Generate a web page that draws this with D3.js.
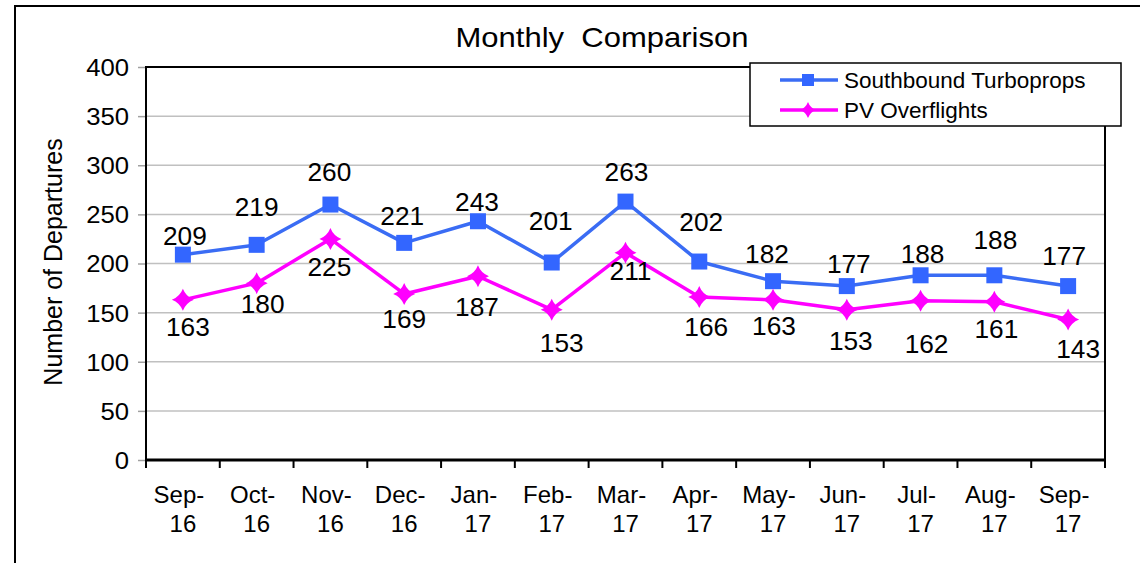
<!DOCTYPE html>
<html><head><meta charset="utf-8">
<script src="https://cdn.jsdelivr.net/npm/d3@7"></script>
<style>body{margin:0;background:#fff}svg{display:block;font-family:"Liberation Sans",Arial,sans-serif}</style>
</head><body><svg id="c" width="1140" height="563"></svg>
<script>
// ---- data ----
const months = ["Sep-16","Oct-16","Nov-16","Dec-16","Jan-17","Feb-17","Mar-17","Apr-17","May-17","Jun-17","Jul-17","Aug-17","Sep-17"];
const southbound = [209,219,260,221,243,201,263,202,182,177,188,188,177];
const pvOverflights = [163,180,225,169,187,153,211,166,163,153,162,161,143];
const yTicks = [0,50,100,150,200,250,300,350,400];
const seriesNames = ["Southbound Turboprops","PV Overflights"];

// ---- layout: manually placed data-label offsets (px, relative to the point) ----
const sbLabelDx = [2,0,-1,-2,-1,-1,1,2,-6,2,2,1,-4];
const sbLabelDy = [-19,-38,-33,-27,-19,-42,-30,-40,-27,-22,-21,-35,-30];
const pvLabelDx = [5,6,-1,0,-1,10,5,7,1,4,6,2,10];
const pvLabelDy = [27,21,28,25,31,33,18,30,26,31,43,27,29];

const svg = d3.select("#c");
const m = {l:146, t:67, r:1105, b:460};
function stretch(sel, k){ sel.each(function(){ const w=this.getComputedTextLength(); this.setAttribute("textLength", w*k); this.setAttribute("lengthAdjust","spacingAndGlyphs"); }); }

svg.append("rect").attr("x",15).attr("y",6).attr("width",1140).attr("height",600)
  .attr("fill","#fff").attr("stroke","#000").attr("stroke-width",2);

const x = d3.scaleBand().domain(months).range([m.l,m.r]);
const y = d3.scaleLinear().domain([0,400]).range([m.b,m.t]);

svg.append("g").selectAll("line").data(yTicks.filter(d=>d>0)).join("line")
  .attr("x1",m.l).attr("x2",m.r).attr("y1",d=>y(d)).attr("y2",d=>y(d))
  .attr("stroke","#c0c0c0").attr("stroke-width",1.5);

const ya = svg.append("g").attr("transform",`translate(${m.l},0)`)
  .call(d3.axisLeft(y).tickValues(yTicks).tickSize(8).tickPadding(9));
ya.select(".domain").remove();
ya.selectAll(".tick line").attr("stroke","#a0a0a0").attr("stroke-width",1.5);
ya.selectAll("text").attr("font-size",24).attr("fill","#000").attr("dy","0.35em")
  .attr("font-family","Liberation Sans, Arial, sans-serif");
stretch(ya.selectAll("text"),1.07);

svg.append("rect").attr("x",m.l).attr("y",m.t).attr("width",m.r-m.l).attr("height",m.b-m.t)
  .attr("fill","none").attr("stroke","#000").attr("stroke-width",2);

const bounds = months.map(d=>x(d)).concat([m.r]);
svg.append("g").selectAll("line").data(bounds).join("line")
  .attr("x1",d=>d).attr("x2",d=>d).attr("y1",m.b).attr("y2",m.b+8)
  .attr("stroke","#000").attr("stroke-width",2);
svg.append("line").attr("x1",m.l).attr("x2",m.r).attr("y1",m.b).attr("y2",m.b)
  .attr("stroke","#000").attr("stroke-width",3);

const cx = d=>x(d)+x.bandwidth()/2;
const xg = svg.append("g");
xg.selectAll("text.l1").data(months).join("text").attr("class","l1")
  .attr("x",d=>cx(d)-4).attr("y",m.b+43)
  .attr("text-anchor","middle").attr("font-size",24).attr("fill","#000").text(d=>d.split("-")[0]+"-");
xg.selectAll("text.l2").data(months).join("text").attr("class","l2")
  .attr("x",d=>cx(d)).attr("y",m.b+72)
  .attr("text-anchor","middle").attr("font-size",24).attr("fill","#000").text(d=>d.split("-")[1]);

const line = d3.line().x((d,i)=>cx(months[i])).y(d=>y(d));

svg.append("path").datum(southbound).attr("d",line).attr("fill","none")
  .attr("stroke","#3a6cf4").attr("stroke-width",3.5).attr("stroke-linejoin","round");
svg.append("path").datum(pvOverflights).attr("d",line).attr("fill","none")
  .attr("stroke","#ff00ff").attr("stroke-width",3.5).attr("stroke-linejoin","round");

function diamondPath(r){ const c=r*0.28; return `M0,${-r} Q${c},${-c} ${r},0 Q${c},${c} 0,${r} Q${-c},${c} ${-r},0 Q${-c},${-c} 0,${-r}Z`; }

svg.append("g").selectAll("rect").data(southbound).join("rect")
  .attr("x",(d,i)=>cx(months[i])-8).attr("y",d=>y(d)-8).attr("width",16).attr("height",16)
  .attr("fill","#3366ff");
svg.append("g").selectAll("path").data(pvOverflights).join("path")
  .attr("transform",(d,i)=>`translate(${cx(months[i])},${y(d)})`).attr("d",diamondPath(11))
  .attr("fill","#ff00ff");

const l1 = svg.append("g").selectAll("text").data(southbound).join("text")
  .attr("x",(d,i)=>cx(months[i])+sbLabelDx[i]).attr("y",(d,i)=>y(d)+sbLabelDy[i]).attr("dy","0.36em")
  .attr("text-anchor","middle").attr("font-size",25).attr("fill","#000").text(d=>d);
const l2 = svg.append("g").selectAll("text").data(pvOverflights).join("text")
  .attr("x",(d,i)=>cx(months[i])+pvLabelDx[i]).attr("y",(d,i)=>y(d)+pvLabelDy[i]).attr("dy","0.36em")
  .attr("text-anchor","middle").attr("font-size",25).attr("fill","#000").text(d=>d);
stretch(l1,1.05); stretch(l2,1.05);

const t = svg.append("text").attr("x",602).attr("y",47).attr("text-anchor","middle")
  .attr("font-size",28).attr("fill","#000").attr("xml:space","preserve").text("Monthly  Comparison");
stretch(t, 293/ t.node().getComputedTextLength());
svg.append("text").attr("transform","translate(62,262) rotate(-90)").attr("text-anchor","middle")
  .attr("font-size",25).attr("fill","#000").text("Number of Departures");

const lg = svg.append("g");
lg.append("rect").attr("x",750).attr("y",63).attr("width",371).attr("height",63)
  .attr("fill","#fff").attr("stroke","#000").attr("stroke-width",1.5);
const colors = ["#3a6cf4","#ff00ff"];
seriesNames.forEach((n,i)=>{
  const yy = 80 + i*30;
  lg.append("line").attr("x1",780).attr("x2",838).attr("y1",yy).attr("y2",yy)
    .attr("stroke",colors[i]).attr("stroke-width",3.5);
  if(i===0) lg.append("rect").attr("x",802).attr("y",yy-6).attr("width",12).attr("height",12).attr("fill","#3366ff");
  else lg.append("path").attr("transform",`translate(808,${yy})`).attr("d",diamondPath(8)).attr("fill","#ff00ff");
  lg.append("text").attr("x",844).attr("y",yy+8).attr("font-size",22.5).attr("fill","#000").text(n);
});
</script></body></html>
